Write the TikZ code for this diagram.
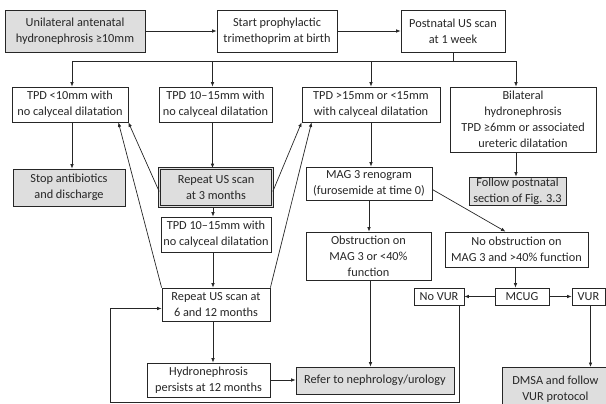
\documentclass[tikz,border=0pt]{standalone}
\usepackage{fontspec}
\setmainfont{Carlito}
\usetikzlibrary{arrows.meta,calc}
\begin{document}
\begin{tikzpicture}[x=1pt,y=-1pt,
  box/.style={draw=black!85,line width=0.8pt,align=center,inner sep=0pt,
    font=\fontsize{12.3}{16}\selectfont,text=black!85},
  gbox/.style={box,fill=black!13},
  dbox/.style={gbox,double=black!13,double distance=1.3pt,line width=0.6pt},
  arr/.style={draw=black!85,line width=0.7pt,-{Latex[length=4.5pt,width=3.6pt]}},
  ln/.style={draw=black!85,line width=0.7pt}]
\useasboundingbox (0,0) rectangle (606,404);
\clip (0,0) rectangle (606,404);
% row 1
\node[gbox,minimum width=140pt,minimum height=42pt] (n1) at (75,31) {Unilateral antenatal\\hydronephrosis ≥10mm};
\node[box,minimum width=120pt,minimum height=42pt] (n2) at (277,31) {Start prophylactic\\trimethoprim at birth};
\node[box,minimum width=104pt,minimum height=42pt] (n3) at (453,31) {Postnatal US scan\\at 1 week};
% row 2
\node[box,minimum width=116pt,minimum height=35pt] (a) at (70,104.5) {TPD <10mm with\\no calyceal dilatation};
\node[box,minimum width=113pt,minimum height=35pt] (b) at (215.5,104.5) {TPD 10--15mm with\\no calyceal dilatation};
\node[box,minimum width=138pt,minimum height=35pt] (c) at (371,104.5) {TPD >15mm or <15mm\\with calyceal dilatation};
\node[box,minimum width=146pt,minimum height=65pt] (d) at (523,119.5) {Bilateral\\hydronephrosis\\TPD ≥6mm or associated\\ureteric dilatation};
% row 3
\node[gbox,minimum width=112pt,minimum height=37pt] (stop) at (69,187.5) {Stop antibiotics\\and discharge};
\node[dbox,minimum width=113pt,minimum height=38pt] (rep3) at (216,187.5) {Repeat US scan\\at 3 months};
\node[gbox,minimum width=97pt,minimum height=28pt] (follow) at (517.5,191) {Follow postnatal\\section of Fig. 3.3};
\node[box,minimum width=126pt,minimum height=33pt] (mag) at (369,183.5) {MAG 3 renogram\\(furosemide at time 0)};
\node[box,minimum width=110pt,minimum height=35pt] (tpd2) at (216,234.5) {TPD 10--15mm with\\no calyceal dilatation};
\node[box,minimum width=125pt,minimum height=48pt] (obst) at (368.5,256) {Obstruction on\\MAG 3 or <40\%\\function};
\node[box,minimum width=143pt,minimum height=35pt] (noobs) at (516.5,249.5) {No obstruction on\\MAG 3 and >40\% function};
\node[box,minimum width=108pt,minimum height=33pt] (rep612) at (216,304.5) {Repeat US scan at\\6 and 12 months};
\node[box,minimum width=50pt,minimum height=17pt] (novur) at (439,296.5) {No VUR};
\node[box,minimum width=54pt,minimum height=17pt] (mcug) at (522,296.5) {MCUG};
\node[box,minimum width=33pt,minimum height=17pt] (vur) at (588.5,296.5) {VUR};
\node[box,minimum width=123pt,minimum height=34pt] (hyd) at (208.5,380) {Hydronephrosis\\persists at 12 months};
\node[gbox,minimum width=158pt,minimum height=27pt] (refer) at (375,380.5) {Refer to nephrology/urology};
\node[gbox,minimum width=106pt,minimum height=43pt,anchor=north west] (dmsa) at (502,367) {DMSA and follow\\VUR protocol};
% connectors
\draw[arr] (n1.east) -- (n2.west);
\draw[arr] (n2.east) -- (n3.west);
\coordinate (bus) at (453,61);
\draw[ln] (n3.south) -- (bus);
\draw[arr] (bus) -| ([xshift=2pt]a.north);
\draw[arr] (bus) -| ([xshift=-3pt]b.north);
\draw[arr] (bus) -| (c.north);
\draw[arr] (bus) -| ([xshift=-7pt]d.north);
\draw[arr] ([xshift=2pt]a.south) -- ([xshift=2pt]a.south |- stop.north);
\draw[arr] ([xshift=-3pt]b.south) -- ([xshift=-3pt]b.south |- rep3.north);
\draw[arr] ([yshift=-4pt]rep3.west) -- (a.south east);
\draw[arr] (rep612.north west) -- ([xshift=-10pt]a.south east);
\draw[arr] ([yshift=-4pt]rep3.east) -- (c.south west);
\draw[arr] (rep612.north east) -- ([xshift=10pt]c.south west);
\draw[arr] ([xshift=-3pt]rep3.south) -- ([xshift=-3pt]rep3.south |- tpd2.north);
\draw[arr] ([xshift=-3pt]tpd2.south) -- ([xshift=-3pt]tpd2.south |- rep612.north);
\draw[arr] ([xshift=-3pt]rep612.south) -- ([xshift=-3pt]rep612.south |- hyd.north);
\draw[arr] (hyd.east) -- (hyd.east -| refer.west);
\draw[arr] (c.south) -- (c.south |- mag.north);
\draw[arr] (mag.south) -- (mag.south |- obst.north);
\draw[arr] ([yshift=-6pt]mag.east) -- ([xshift=-11pt]noobs.north);
\draw[arr] ([xshift=-7pt]d.south) -- ([xshift=-7pt]d.south |- follow.north);
\draw[arr] ([xshift=2pt]obst.south) -- ([xshift=2pt]obst.south |- refer.north);
\draw[arr] ([xshift=-1pt]noobs.south) -- ([xshift=-1pt]noobs.south |- mcug.north);
\draw[arr] (mcug.west) -- (novur.east);
\draw[arr] (mcug.east) -- (vur.west);
\draw[arr] ([xshift=2pt]vur.south) -- ([xshift=2pt]vur.south |- dmsa.north);
\coordinate (lb) at (110,402);
\draw[arr] ([xshift=20pt]novur.south) |- (lb) |- ([yshift=-4pt]rep612.west);
\end{tikzpicture}
\end{document}
